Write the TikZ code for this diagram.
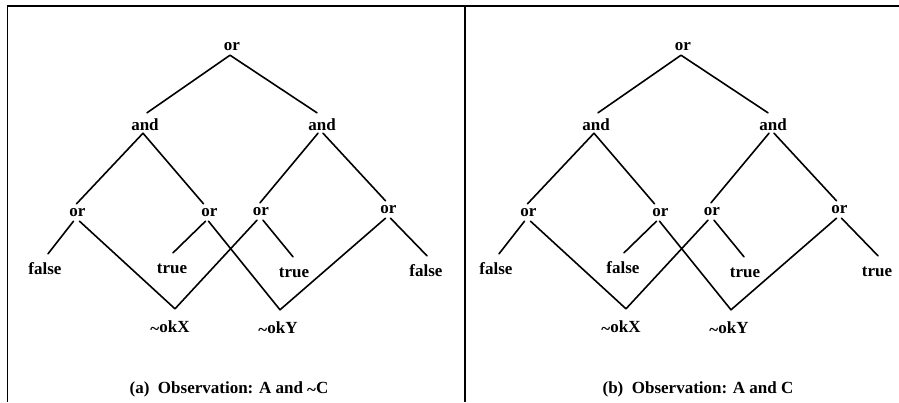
\documentclass[tikz,border=0pt]{standalone}
\usepackage{fontspec}
\setmainfont{Liberation Serif}
\newcommand\negt{\raisebox{-0.14em}{\textasciitilde}}
\tikzset{
  lbl/.style={font=\fontsize{17}{20}\selectfont\bfseries, inner xsep=0pt, anchor=base, text depth=0pt},
  gor/.style={lbl, text height=8pt, text depth=1pt, inner ysep=4pt},
  gand/.style={lbl, text height=14pt, inner ysep=3pt},
  leaf/.style={lbl, text height=12pt, inner ysep=8pt},
  neg/.style={lbl, text height=12pt, inner ysep=11pt},
  conn/.style={line width=1.6pt, line cap=round, line join=round},
  frame/.style={line width=1.5pt},
}
\newcommand\treepanel[6]{%
\begin{scope}[xshift=#2, name prefix=#1-]
  \node[gor]  (ortop) at (232,50)   {or};
  \node[gand] (andL)  at (145,130)  {and};
  \node[gand] (andR)  at (322,130)  {and};
  \node[gor]  (or1)   at (77.5,216) {or};
  \node[gor]  (or2)   at (209.5,216) {or};
  \node[gor]  (or3)   at (261,215)  {or};
  \node[gor]  (or4)   at (388.5,213) {or};
  \node[leaf] (l1)    at (45,274)   {#3};
  \node[leaf] (l2)    at (172,273)  {#4};
  \node[leaf] (l3)    at (294,277)  {#5};
  \node[leaf] (l4)    at (426,276)  {#6};
  \node[neg]  (okX)   at (170,332)  {\negt okX};
  \node[neg]  (okY)   at (278,333)  {\negt okY};
  \draw[conn] ([xshift=2pt]andL.north) -- ([xshift=-2pt]ortop.south) -- ([xshift=-5pt]andR.north);
  \draw[conn] ([xshift=-1pt]or1.north) -- ([xshift=-2pt]andL.south) -- ([xshift=-6pt]or2.north);
  \draw[conn] ([xshift=-1pt]or3.north) -- ([xshift=-4pt]andR.south);
  \draw[conn] ([xshift=1pt]andR.south) -- ([xshift=-3pt]or4.north);
  \draw[conn] ([xshift=3pt]l1.north) -- ([xshift=-4pt]or1.south);
  \draw[conn] ([xshift=2pt]or1.south) -- ([xshift=5pt]okX.north) -- ([xshift=-4pt]or3.south);
  \draw[conn] ([xshift=1pt]l2.north) -- ([xshift=-4pt]or2.south);
  \draw[conn] ([xshift=-1pt]or2.south) -- ([xshift=2pt]okY.north) -- ([xshift=-3pt]or4.south);
  \draw[conn] ([xshift=2pt]or3.south) -- ([xshift=-1pt]l3.north);
  \draw[conn] ([xshift=2pt]or4.south) -- ([xshift=1pt]l4.north);
\end{scope}}
\begin{document}
\begin{tikzpicture}[x=1pt, y=-1pt]
  \useasboundingbox (0,0) rectangle (899,402);
  \draw[frame] (7.5,402) -- (7.5,6) -- (899,6);
  \draw[frame] (465,6) -- (465,402);
  \treepanel{a}{0pt}{false}{true}{true}{false}
  \treepanel{b}{451pt}{false}{false}{true}{true}
  \node[lbl] (capa) at (229,393) {(a)\ \ Observation: A and \negt C};
  \node[lbl] (capb) at (698,393) {(b)\ \ Observation: A and C};
\end{tikzpicture}
\end{document}
